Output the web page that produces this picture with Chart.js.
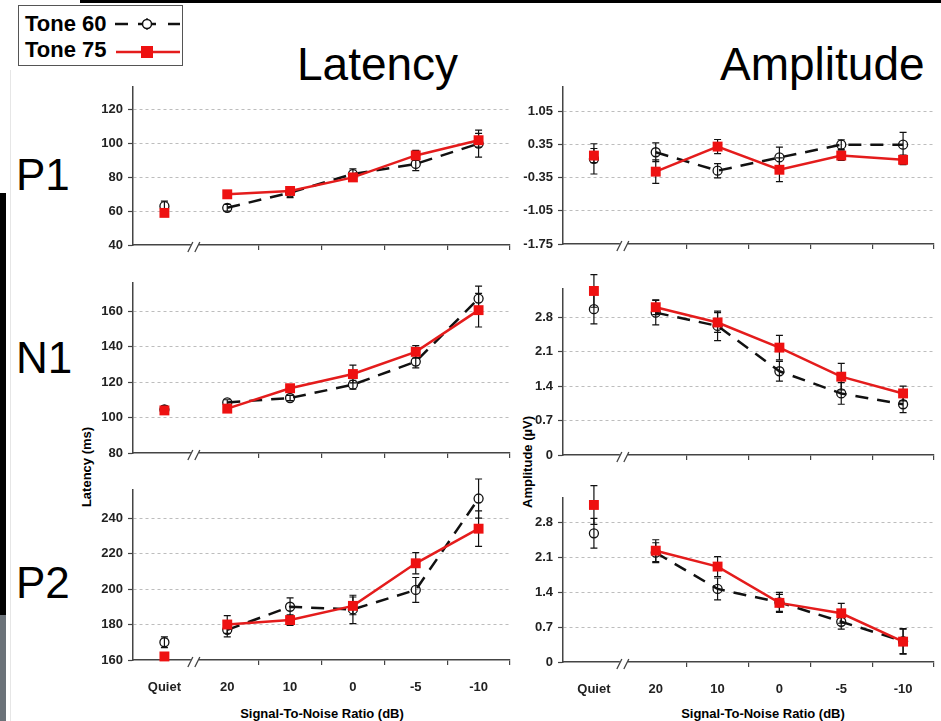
<!DOCTYPE html>
<html>
<head>
<meta charset="utf-8">
<script src="https://cdn.jsdelivr.net/npm/chart.js@4"></script>
<style>
  body { margin:0; width:941px; height:721px; background:#fff; position:relative; overflow:hidden;
         font-family:"Liberation Sans", Arial, sans-serif; }
  canvas { position:absolute; }
  .txt { position:absolute; line-height:1; white-space:nowrap; color:#000; }
  .bold { font-weight:bold; }
  .rot { transform:translate(-50%,-50%) rotate(-90deg); }
  .deco { position:absolute; }
</style>
</head>
<body>

<!-- slide leftovers -->
<div class="deco" style="left:80px;top:0;width:861px;height:3px;background:#000"></div>
<div class="deco" style="left:0;top:193px;width:6px;height:422px;background:#000"></div>
<div class="deco" style="left:0;top:615px;width:6px;height:106px;background:#6b7279"></div>
<div class="deco" style="left:10px;top:70px;width:1px;height:651px;background:#e6e6e6"></div>

<!-- legend -->
<div class="deco" style="left:18px;top:5px;width:163px;height:59px;border:1.5px solid #555;background:#fff"></div>
<div class="txt bold" style="left:25px;top:13px;font-size:22px">Tone 60</div>
<div class="txt bold" style="left:25px;top:39px;font-size:22px">Tone 75</div>
<svg class="deco" style="left:110px;top:10px" width="75" height="55">
  <line x1="5" y1="14" x2="18" y2="14" stroke="#111" stroke-width="2.5"/>
  <line x1="28" y1="14" x2="46" y2="14" stroke="#111" stroke-width="2.5"/>
  <line x1="37" y1="8" x2="37" y2="20" stroke="#111" stroke-width="1.2"/>
  <circle cx="37" cy="14" r="4.5" fill="#fff" stroke="#111" stroke-width="1.5"/>
  <line x1="58" y1="14" x2="70" y2="14" stroke="#111" stroke-width="2.5"/>
  <line x1="6" y1="42" x2="70" y2="42" stroke="#e41c1c" stroke-width="2.5"/>
  <rect x="31" y="36" width="12" height="12" fill="#ee1111"/>
</svg>

<!-- headings -->
<div class="txt" style="left:297px;top:41px;font-size:46px">Latency</div>
<div class="txt" style="left:720px;top:41px;font-size:46px">Amplitude</div>
<div class="txt" style="left:16px;top:153px;font-size:44px">P1</div>
<div class="txt" style="left:16px;top:336px;font-size:44px">N1</div>
<div class="txt" style="left:16px;top:561px;font-size:44px">P2</div>

<div class="txt bold rot" style="left:86px;top:467px;font-size:13px">Latency (ms)</div>
<div class="txt bold rot" style="left:527px;top:462px;font-size:13px">Amplitude (µV)</div>
<div class="txt bold" style="left:322px;top:707px;font-size:13px;transform:translateX(-50%)">Signal-To-Noise Ratio (dB)</div>
<div class="txt bold" style="left:763px;top:707px;font-size:13px;transform:translateX(-50%)">Signal-To-Noise Ratio (dB)</div>

<canvas id="p1Lat"></canvas>
<canvas id="p1Amp"></canvas>
<canvas id="n1Lat"></canvas>
<canvas id="n1Amp"></canvas>
<canvas id="p2Lat"></canvas>
<canvas id="p2Amp"></canvas>

<script>
// ─── DATA ───
const categories = ['Quiet', '20', '10', '0', '-5', '-10'];

const p1LatTone60 = [63, 62, 71, 82, 88, 100];
const p1LatTone60Err = [3, 2, 3, 3, 4, 8];
const p1LatTone75 = [59, 70, 72, 80, 93, 102];
const p1LatTone75Err = [1, 1.5, 2, 2, 3, 4];

const p1AmpTone60 = [0.05, 0.19, -0.2, 0.08, 0.35, 0.35];
const p1AmpTone60Err = [0.32, 0.2, 0.15, 0.22, 0.1, 0.26];
const p1AmpTone75 = [0.12, -0.22, 0.31, -0.18, 0.12, 0.03];
const p1AmpTone75Err = [0.15, 0.25, 0.15, 0.25, 0.1, 0.1];

const n1LatTone60 = [104.5, 108.5, 111, 118.5, 131.5, 167];
const n1LatTone60Err = [2, 1.5, 1.5, 2.5, 3.5, 7];
const n1LatTone75 = [104, 105, 116.5, 124.5, 137, 160.5];
const n1LatTone75Err = [2, 1.5, 2, 5, 3.5, 9.5];

const n1AmpTone60 = [2.96, 2.89, 2.62, 1.70, 1.25, 1.03];
const n1AmpTone60Err = [0.3, 0.25, 0.3, 0.2, 0.22, 0.17];
const n1AmpTone75 = [3.33, 3.0, 2.69, 2.18, 1.59, 1.25];
const n1AmpTone75Err = [0.33, 0.15, 0.2, 0.25, 0.27, 0.15];

const p2LatTone60 = [170, 177, 190, 188.5, 199.5, 251];
const p2LatTone60Err = [3, 4, 5, 8, 7, 11];
const p2LatTone75 = [162, 180, 182.5, 190.5, 214.5, 234];
const p2LatTone75Err = [1, 5, 3, 5, 6, 10];

const p2AmpTone60 = [2.59, 2.2, 1.47, 1.2, 0.81, 0.42];
const p2AmpTone60Err = [0.3, 0.2, 0.22, 0.2, 0.15, 0.25];
const p2AmpTone75 = [3.16, 2.24, 1.92, 1.19, 0.98, 0.41];
const p2AmpTone75Err = [0.39, 0.22, 0.2, 0.17, 0.2, 0.25];

const latP1Ticks = [40, 60, 80, 100, 120];
const latN1Ticks = [80, 100, 120, 140, 160];
const latP2Ticks = [160, 180, 200, 220, 240];
const ampP1Ticks = [-1.75, -1.05, -0.35, 0.35, 1.05];
const ampTicks = [0, 0.7, 1.4, 2.1, 2.8];

// ─── PLUGINS ───
const FONT = '"Liberation Sans", Arial, sans-serif';

// vertical error bars with caps, from each dataset's `errors`
const errorBars = {
    id: 'errorBars',
    beforeDatasetsDraw(chart) {
        const { ctx } = chart;
        const y = chart.scales.y;
        ctx.save();
        ctx.strokeStyle = '#111';
        ctx.lineWidth = 1.2;
        chart.data.datasets.forEach((ds, di) => {
            const meta = chart.getDatasetMeta(di);
            ds.errors.forEach((e, i) => {
                const pt = meta.data[i];
                const top = y.getPixelForValue(ds.data[i] + e);
                const bot = y.getPixelForValue(ds.data[i] - e);
                ctx.beginPath();
                ctx.moveTo(pt.x, top); ctx.lineTo(pt.x, bot);
                ctx.moveTo(pt.x - 3.5, top); ctx.lineTo(pt.x + 3.5, top);
                ctx.moveTo(pt.x - 3.5, bot); ctx.lineTo(pt.x + 3.5, bot);
                ctx.stroke();
            });
        });
        ctx.restore();
    }
};

// "//" axis break between Quiet and the SNR conditions
const axisBreak = {
    id: 'axisBreak',
    afterDraw(chart) {
        const { ctx } = chart;
        const x = chart.scales.x;
        const bx = (x.getPixelForValue(0) + x.getPixelForValue(1)) / 2;
        const by = chart.chartArea.bottom;
        ctx.save();
        ctx.fillStyle = '#fff';
        ctx.fillRect(bx - 5, by - 2, 8, 4);
        ctx.strokeStyle = '#444';
        ctx.lineWidth = 1.3;
        ctx.beginPath();
        ctx.moveTo(bx - 8, by + 7); ctx.lineTo(bx - 3, by - 3);
        ctx.moveTo(bx - 1, by + 7); ctx.lineTo(bx + 4, by - 3);
        ctx.stroke();
        ctx.restore();
    }
};

const hideQuietLink = ctx => ctx.p0DataIndex === 0 ? 'rgba(0,0,0,0)' : undefined;

function makePanel(p) {
    const el = document.getElementById(p.id);
    el.width = p.width;
    el.height = p.height;
    el.style.left = p.left + 'px';
    el.style.top = p.top + 'px';

    return new Chart(el, {
        type: 'line',
        data: {
            labels: categories,
            datasets: [
                {
                    label: 'Tone 75', data: p.t75, errors: p.e75,
                    borderColor: '#e41c1c', borderWidth: 2.5,
                    pointStyle: 'rect', pointRadius: 7,
                    pointBackgroundColor: '#ee1111', pointBorderColor: '#ee1111', pointBorderWidth: 0,
                    segment: { borderColor: hideQuietLink }, clip: false
                },
                {
                    label: 'Tone 60', data: p.t60, errors: p.e60,
                    borderColor: '#111', borderWidth: 2.5, borderDash: [13, 9],
                    pointStyle: 'circle', pointRadius: 4.5,
                    pointBackgroundColor: 'rgba(0,0,0,0)', pointBorderColor: '#111', pointBorderWidth: 1.3,
                    segment: { borderColor: hideQuietLink }, clip: false
                }
            ]
        },
        options: {
            responsive: false, animation: false,
            layout: { padding: { top: 25, right: p.padRight, left: 0, bottom: 0 } },
            plugins: { legend: { display: false }, tooltip: { enabled: false } },
            scales: {
                x: {
                    offset: true,
                    grid: {
                        offset: true, drawOnChartArea: false, drawTicks: true, tickLength: 5, lineWidth: 1.2,
                        color: ctx => ctx.index < 2 ? 'rgba(0,0,0,0)' : '#444'
                    },
                    border: { color: '#444', width: 1.5 },
                    ticks: {
                        display: p.showX, padding: 15, color: '#222', autoSkip: false, maxRotation: 0,
                        font: { family: FONT, size: 13, weight: 'bold' }
                    },
                    afterFit: s => { s.height = 60; }
                },
                y: {
                    min: p.min, max: p.max,
                    afterBuildTicks: s => { s.ticks = p.ticks.map(v => ({ value: v })); },
                    grid: {
                        color: ctx => ctx.index === 0 ? 'rgba(0,0,0,0)' : '#bdbdbd',
                        lineWidth: 1, tickLength: 5, tickColor: '#444', tickWidth: 1.2
                    },
                    border: { color: '#444', width: 1.5, dash: [3, 3] },
                    ticks: {
                        padding: 5, color: '#222',
                        font: { family: FONT, size: 13, weight: 'bold' },
                        callback: v => String(+Number(v).toFixed(2))
                    },
                    afterFit: s => { s.width = p.yWidth; }
                }
            }
        },
        plugins: [errorBars, axisBreak]
    });
}

// chart area: left column 133..510, right column 563..941
const LEFT = { left: 60, width: 460, yWidth: 73, padRight: 10 };
const RIGHT = { left: 500, width: 441, yWidth: 63, padRight: 0 };

function panel(id, col, areaTop, areaBottom, min, max, ticks, t60, e60, t75, e75, showX) {
    return Object.assign({}, col, {
        id, top: areaTop - 25, height: 25 + (areaBottom - areaTop) + 60,
        min, max, ticks, t60, e60, t75, e75, showX
    });
}

[
    panel('p1Lat', LEFT, 87, 245, 40, 133.5, latP1Ticks, p1LatTone60, p1LatTone60Err, p1LatTone75, p1LatTone75Err, false),
    panel('p1Amp', RIGHT, 87, 244, -1.75, 1.57, ampP1Ticks, p1AmpTone60, p1AmpTone60Err, p1AmpTone75, p1AmpTone75Err, false),
    panel('n1Lat', LEFT, 283, 453, 80, 175.8, latN1Ticks, n1LatTone60, n1LatTone60Err, n1LatTone75, n1LatTone75Err, false),
    panel('n1Amp', RIGHT, 289, 455, 0, 3.37, ampTicks, n1AmpTone60, n1AmpTone60Err, n1AmpTone75, n1AmpTone75Err, false),
    panel('p2Lat', LEFT, 490, 660, 160, 255.8, latP2Ticks, p2LatTone60, p2LatTone60Err, p2LatTone75, p2LatTone75Err, true),
    panel('p2Amp', RIGHT, 498, 662, 0, 3.30, ampTicks, p2AmpTone60, p2AmpTone60Err, p2AmpTone75, p2AmpTone75Err, true)
].forEach(makePanel);
</script>
</body>
</html>
